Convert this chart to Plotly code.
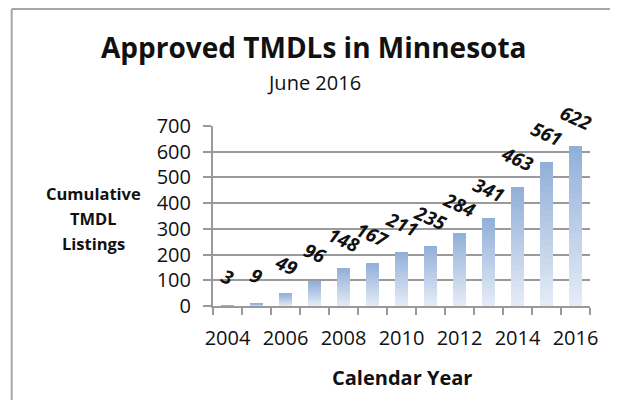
import plotly.graph_objects as go

years = [2004, 2005, 2006, 2007, 2008, 2009, 2010, 2011, 2012, 2013, 2014, 2015, 2016]
listings = [3, 9, 49, 96, 148, 167, 211, 235, 284, 341, 463, 561, 622]
tick_years = [2004, 2006, 2008, 2010, 2012, 2014, 2016]

title = "Approved TMDLs in Minnesota"
subtitle = "June 2016"
y_title_lines = ["Cumulative", "TMDL", "Listings"]
x_title = "Calendar Year"

FONT = "Open Sans"
OFF = 8  # page body margin in the browser
W, H = 618 - 2 * OFF, 408 - 2 * OFF
L, T = 213 - OFF, 126 - OFF
PW, PH = 595 - 213, 306 - 126
R, B = W - L - PW, H - T - PH


def px(x):
    return (x - OFF - L) / PW


def py(y):
    return (T + PH - (y - OFF)) / PH


# gradient: split each bar into stacked slices (light at bottom, darker at top)
N = 24
c_bot = (228, 235, 246)
c_top = (147, 176, 217)
fig = go.Figure()
for i in range(N):
    f = i / (N - 1)
    col = tuple(round(c_bot[k] + (c_top[k] - c_bot[k]) * f) for k in range(3))
    fig.add_trace(go.Bar(
        x=years,
        y=[v / N for v in listings],
        marker=dict(color="rgb(%d,%d,%d)" % col, line=dict(width=0)),
        showlegend=False,
        hoverinfo="skip",
    ))

annotations = []
for yr, v in zip(years, listings):
    annotations.append(dict(
        x=yr, y=v, xref="x", yref="y", text="<b><i>%d</i></b>" % v,
        showarrow=False, yshift=28, textangle=24,
        font=dict(family=FONT, size=19, color="#111111"),
    ))

annotations += [
    dict(x=px(315), y=py(47), xref="paper", yref="paper", text="<b>%s</b>" % title,
         showarrow=False, font=dict(family=FONT, size=28, color="#111111"),
         xanchor="center", yanchor="middle"),
    dict(x=px(315), y=py(82), xref="paper", yref="paper", text=subtitle,
         showarrow=False, font=dict(family=FONT, size=20, color="#111111"),
         xanchor="center", yanchor="middle"),
    dict(x=px(405), y=py(377), xref="paper", yref="paper", text="<b>%s</b>" % x_title,
         showarrow=False, font=dict(family=FONT, size=20, color="#111111"),
         xanchor="center", yanchor="middle"),
]
for k, line in enumerate(y_title_lines):
    annotations.append(dict(
        x=px(92), y=py(193 + 25 * k), xref="paper", yref="paper", text="<b>%s</b>" % line,
        showarrow=False, font=dict(family=FONT, size=16.5, color="#111111"),
        xanchor="center", yanchor="middle"))

border = dict(color="#a6a6a6", width=2)
fig.update_layout(
    width=W, height=H,
    margin=dict(l=L, r=R, t=T, b=B, pad=0),
    paper_bgcolor="white", plot_bgcolor="white",
    barmode="stack", bargap=0.54,
    annotations=annotations,
    shapes=[
        dict(type="line", xref="paper", yref="paper",
             x0=px(9), x1=px(9), y0=py(420), y1=py(9), line=border, layer="below"),
        dict(type="line", xref="paper", yref="paper",
             x0=px(9), x1=px(640), y0=py(9), y1=py(9), line=border, layer="below"),
    ],
    font=dict(family=FONT, color="#111111"),
)

fig.update_xaxes(
    range=[2003.5, 2016.5],
    tickvals=tick_years, ticktext=[str(t) for t in tick_years],
    ticks="", showgrid=False, zeroline=False,
    showline=True, linecolor="#9a9a9a", linewidth=2,
    tickfont=dict(family=FONT, size=20, color="#111111"),
    ticklabelstandoff=13,
    minor=dict(tick0=2003.5, dtick=1, ticks="outside", ticklen=7,
               tickcolor="#9a9a9a", tickwidth=2, showgrid=False),
    fixedrange=True,
)
fig.update_yaxes(
    range=[0, 700], dtick=100,
    showgrid=True, gridcolor="#9a9a9a", gridwidth=2,
    zeroline=False, showline=True, linecolor="#9a9a9a", linewidth=2,
    ticks="outside", ticklen=8, tickcolor="#9a9a9a", tickwidth=2,
    tickfont=dict(family=FONT, size=20, color="#111111"),
    ticklabelstandoff=8,
    fixedrange=True,
)

fig.write_html("out.html")
